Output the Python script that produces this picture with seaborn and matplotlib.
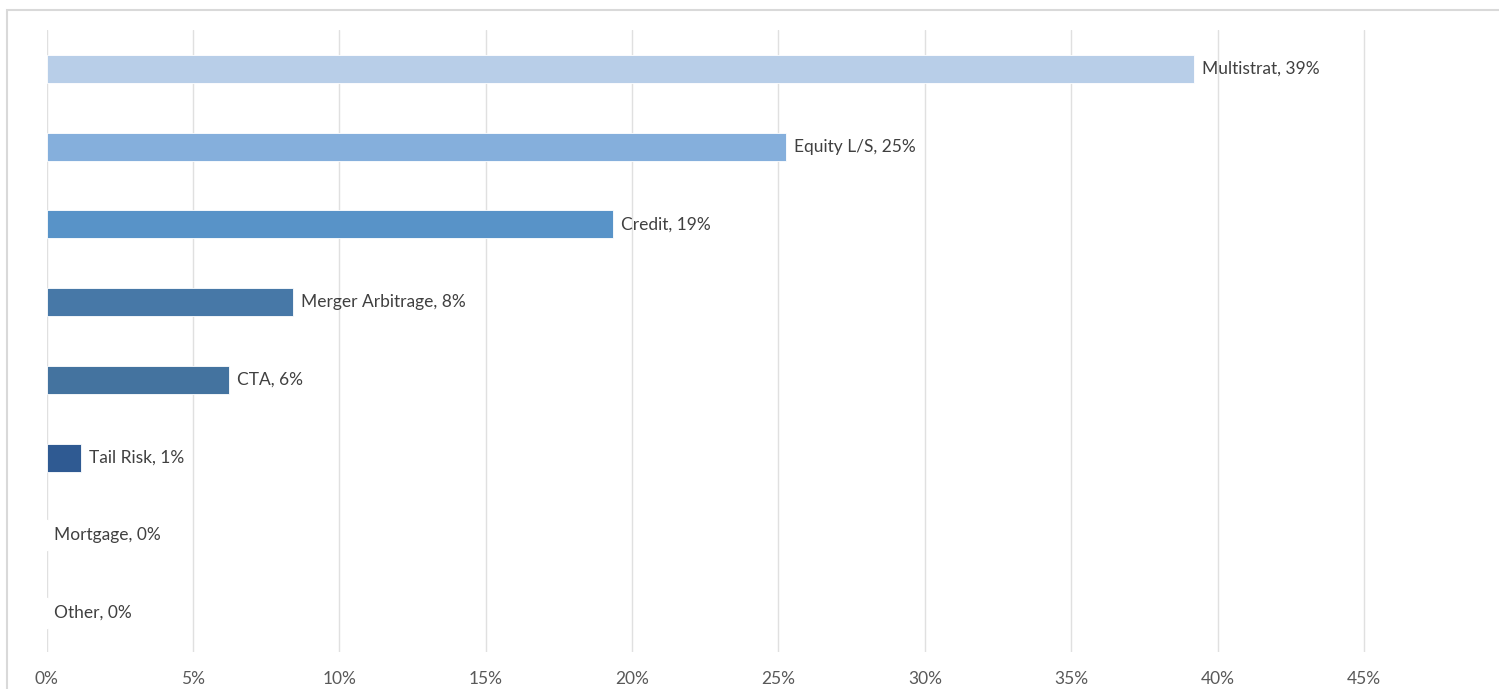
import matplotlib
matplotlib.use("Agg")
import matplotlib.pyplot as plt
import seaborn as sns
import pandas as pd
from matplotlib.patches import Rectangle
from matplotlib.ticker import FuncFormatter

# ---------------- DATA ----------------
strategies = ["Multistrat", "Equity L/S", "Credit", "Merger Arbitrage",
              "CTA", "Tail Risk", "Mortgage", "Other"]
shares = [39.2, 25.25, 19.35, 8.43, 6.24, 1.19, 0.0, 0.0]
labels = ["39%", "25%", "19%", "8%", "6%", "1%", "0%", "0%"]
bar_colors = ["#b8cee8", "#85afdc", "#5893c8", "#4778a7", "#44739f",
              "#2f5a92", "#ffffff", "#ffffff"]
x_ticks = [0, 5, 10, 15, 20, 25, 30, 35, 40, 45]
# --------------------------------------

df = pd.DataFrame({"strategy": strategies, "share": shares})

sns.set_theme(style="white")
plt.rcParams["font.family"] = ["Lato", "DejaVu Sans"]

fig = plt.figure(figsize=(14.99, 6.89), dpi=100)
ax = fig.add_axes([46.5 / 1499, 37 / 689, (1490 - 46.5) / 1499, 622 / 689])

sns.barplot(data=df, y="strategy", x="share", hue="strategy",
            palette=bar_colors, orient="h", width=0.36, legend=False,
            saturation=1, edgecolor="white", linewidth=0.6, ax=ax, zorder=3)

ax.set_xlim(0, 49.3)
ax.set_ylim(7.5, -0.5)
ax.set_xticks(x_ticks)
ax.xaxis.set_major_formatter(FuncFormatter(lambda v, p: f"{v:.0f}%"))
ax.grid(axis="x", color="#e0e0e0", linewidth=1.0, zorder=0)
ax.grid(axis="y", visible=False)
ax.set_xlabel("")
ax.set_ylabel("")
ax.set_yticks([])
for side in ["top", "right", "bottom", "left"]:
    ax.spines[side].set_visible(False)
ax.tick_params(axis="x", length=0, pad=14, labelsize=12.5, labelcolor="#595959")

# zero-width bars still cover the 0% gridline
for i, val in enumerate(shares):
    if val == 0:
        ax.plot([0, 0], [i - 0.18, i + 0.18], color="white", linewidth=2.5, zorder=4)

for i, (name, val, lab) in enumerate(zip(strategies, shares, labels)):
    ax.annotate(f"{name}, {lab}", xy=(val, i), xytext=(8, 0),
                textcoords="offset pixels",
                va="center", ha="left", fontsize=12.5, color="#404040", zorder=5)

# light outer frame
fig.patches.append(Rectangle((7 / 1499, -0.1), 1.2, 0.1 + (689 - 10) / 689,
                             transform=fig.transFigure, fill=False,
                             edgecolor="#d9d9d9", linewidth=1.5))

fig.savefig("out.png", dpi=100)
